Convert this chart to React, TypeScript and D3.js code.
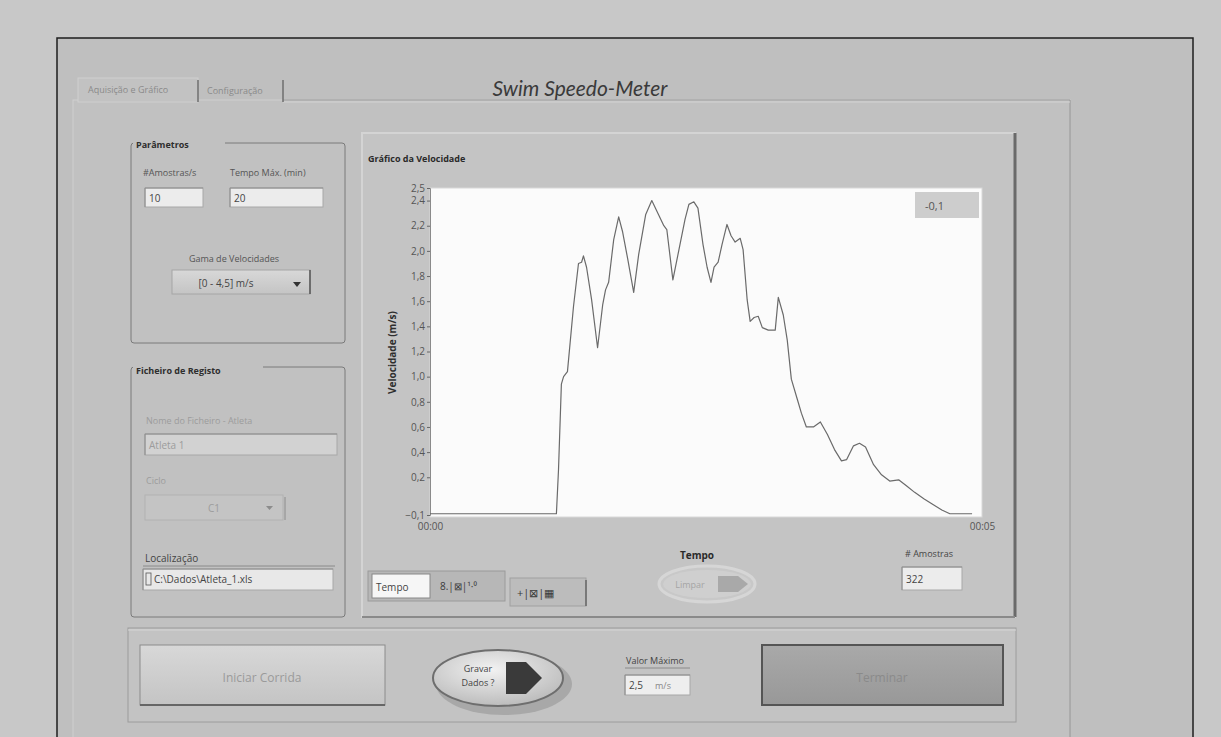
import React, { useEffect, useRef } from 'react';
import * as d3 from 'd3';

// velocity trace (time in s, speed in m/s)
const timeSec = [
  0, 1.145, 1.164, 1.19, 1.21, 1.245, 1.3, 1.345, 1.373, 1.39, 1.418, 1.464, 1.518, 1.564, 1.59, 1.618,
  1.664, 1.709, 1.745, 1.79, 1.845, 1.89, 1.954, 2.009, 2.064, 2.118, 2.145, 2.2, 2.255, 2.31, 2.345,
  2.39, 2.427, 2.473, 2.51, 2.545, 2.573, 2.61, 2.645, 2.69, 2.727, 2.764, 2.81, 2.836, 2.873, 2.9,
  2.936, 2.973, 3.01, 3.064, 3.127, 3.155, 3.2, 3.236, 3.273, 3.327, 3.364, 3.409, 3.473, 3.536, 3.6,
  3.664, 3.727, 3.773, 3.836, 3.89, 3.945, 4.018, 4.09, 4.164, 4.245, 4.318, 4.39, 4.473, 4.545, 4.636,
  4.709, 4.91,
];
const speed = [
  -0.09, -0.09, 0.26, 0.94, 1.0, 1.04, 1.56, 1.9, 1.91, 1.96, 1.87, 1.61, 1.23, 1.57, 1.69, 1.75,
  2.09, 2.27, 2.15, 1.94, 1.67, 1.97, 2.29, 2.4, 2.3, 2.2, 2.17, 1.77, 2.01, 2.25, 2.37,
  2.39, 2.34, 2.05, 1.87, 1.75, 1.87, 1.91, 2.05, 2.21, 2.12, 2.07, 2.1, 2.01, 1.61, 1.44,
  1.47, 1.48, 1.39, 1.37, 1.37, 1.63, 1.49, 1.29, 0.98, 0.82, 0.71, 0.6, 0.6, 0.64, 0.54,
  0.42, 0.33, 0.34, 0.45, 0.47, 0.44, 0.3, 0.22, 0.17, 0.18, 0.13, 0.08, 0.03, -0.01, -0.06,
  -0.09, -0.09,
];
const yTicks = [2.5, 2.4, 2.2, 2.0, 1.8, 1.6, 1.4, 1.2, 1.0, 0.8, 0.6, 0.4, 0.2, -0.1];
const xTicks = [0, 5];

const FONT = '"Open Sans", "Noto Sans", sans-serif';

const W = 1221;
const H = 737;
const plot = { left: 430, top: 188, right: 982, bottom: 517 };

export default function App() {
  const yAxisRef = useRef<SVGGElement>(null);
  const xAxisRef = useRef<SVGGElement>(null);

  const x = d3.scaleLinear().domain([0, 5]).range([plot.left, plot.right]);
  const y = d3.scaleLinear().domain([-0.1, 2.5]).range([plot.bottom - 2, plot.top]);

  const pts = timeSec.map((t, i) => [t, speed[i]] as [number, number]);
  const line = d3.line<[number, number]>().x(d => x(d[0])).y(d => y(d[1]));

  useEffect(() => {
    const fmt = d3.format('.1f');
    const ya = d3.axisLeft(y).tickValues(yTicks).tickSize(3).tickPadding(2)
      .tickFormat(d => fmt(d as number).replace('.', ','));
    const g = d3.select(yAxisRef.current!);
    g.call(ya);
    g.select('.domain').attr('stroke', '#8a8a8a');
    g.selectAll('.tick line').attr('stroke', '#666');
    g.selectAll('text').style('font-family', FONT).style('font-size', '10px').attr('fill', '#555');

    const xa = d3.axisBottom(x).tickValues(xTicks).tickSize(0).tickPadding(6)
      .tickFormat(d => '00:' + d3.format('02d')(d as number));
    const gx = d3.select(xAxisRef.current!);
    gx.call(xa);
    gx.select('.domain').remove();
    gx.selectAll('text').style('font-family', FONT).style('font-size', '10px').attr('fill', '#555');
  }, []);

  const label = (tx: number, ty: number, s: string, opts: any = {}) => (
    <text x={tx} y={ty} fontFamily={FONT} fontSize={opts.size || 10} fill={opts.fill || '#444'}
      fontWeight={opts.bold ? 700 : 400} textAnchor={opts.anchor || 'start'}>{s}</text>
  );

  const inputBox = (bx: number, by: number, bw: number, bh: number, s: string, fill = '#ececec', col = '#444') => (
    <g>
      <rect x={bx} y={by} width={bw} height={bh} fill={fill} stroke="#a8a8a8" />
      <line x1={bx} y1={by} x2={bx + bw} y2={by} stroke="#8c8c8c" />
      <line x1={bx} y1={by} x2={bx} y2={by + bh} stroke="#8c8c8c" />
      <text x={bx + 4} y={by + bh / 2 + 4} fontFamily={FONT} fontSize={10} fill={col}>{s}</text>
    </g>
  );

  return (
    <svg width={W} height={H} style={{ position: 'absolute', left: 0, top: 0 }}>
      <defs>
        <linearGradient id="btnLight" x1="0" y1="0" x2="0" y2="1">
          <stop offset="0" stopColor="#d8d8d8" />
          <stop offset="1" stopColor="#c4c4c4" />
        </linearGradient>
        <linearGradient id="btnDark" x1="0" y1="0" x2="0" y2="1">
          <stop offset="0" stopColor="#a9a9a9" />
          <stop offset="1" stopColor="#989898" />
        </linearGradient>
        <radialGradient id="oval" cx="0.45" cy="0.35" r="0.7">
          <stop offset="0" stopColor="#f2f2f2" />
          <stop offset="1" stopColor="#b8b8b8" />
        </radialGradient>
      </defs>

      {/* background and window frame */}
      <rect x={0} y={0} width={W} height={H} fill="#c8c8c8" />
      <rect x={57} y={38} width={1136} height={720} fill="#bfbfbf" stroke="#1e1e1e" strokeWidth={1.5} />

      {/* tabs */}
      <rect x={73} y={100} width={997} height={660} fill="#c1c1c1" stroke="#d0d0d0" />
      <line x1={1070} y1={100} x2={1070} y2={737} stroke="#8e8e8e" />
      <line x1={283} y1={100} x2={1070} y2={100} stroke="#9a9a9a" />
      <line x1={283} y1={102} x2={1070} y2={102} stroke="#d4d4d4" />
      <rect x={78} y={78} width={120} height={24} fill="#c2c2c2" stroke="#cfcfcf" />
      <line x1={198} y1={80} x2={198} y2={102} stroke="#6e6e6e" strokeWidth={1.5} />
      <line x1={283} y1={80} x2={283} y2={102} stroke="#6e6e6e" strokeWidth={1.5} />
      {label(88, 93, 'Aquisição e Gráfico', { fill: '#8a8a8a', size: 9 })}
      {label(207, 94, 'Configuração', { fill: '#8a8a8a', size: 9 })}
      <text x={580} y={96} textAnchor="middle" fontFamily="Lato, sans-serif" fontStyle="italic" fontSize={21} fill="#3a3a3a">Swim Speedo-Meter</text>

      {/* Parâmetros group */}
      <rect x={131} y={143} width={214} height={200} rx={3} fill="none" stroke="#7a7a7a" />
      <rect x={133} y={138} width={92} height={12} fill="#c1c1c1" />
      {label(136, 148, 'Parâmetros', { bold: true, fill: '#2e2e2e', size: 9 })}
      {label(143, 176, '#Amostras/s', { size: 9, fill: '#555' })}
      {inputBox(145, 188, 58, 19, '10')}
      {label(230, 176, 'Tempo Máx. (min)', { size: 9, fill: '#555' })}
      {inputBox(230, 188, 93, 19, '20')}
      {label(234, 262, 'Gama de Velocidades', { size: 9, fill: '#555', anchor: 'middle' })}
      <rect x={172} y={270} width={138} height={24} fill="url(#btnLight)" stroke="#a6a6a6" />
      <line x1={310} y1={270} x2={310} y2={294} stroke="#555" strokeWidth={1.5} />
      {label(226, 287, '[0 - 4,5] m/s', { size: 10, fill: '#444', anchor: 'middle' })}
      <path d="M293,282 l8,0 l-4,5 z" fill="#333" />

      {/* Ficheiro de Registo group */}
      <rect x={131} y={367} width={214} height={250} rx={3} fill="none" stroke="#7a7a7a" />
      <rect x={133} y={362} width={130} height={12} fill="#c1c1c1" />
      {label(136, 374, 'Ficheiro de Registo', { bold: true, fill: '#2e2e2e', size: 9 })}
      {label(146, 424, 'Nome do Ficheiro - Atleta', { size: 9, fill: '#9c9c9c' })}
      {inputBox(145, 434, 192, 21, 'Atleta 1', '#d2d2d2', '#9c9c9c')}
      {label(146, 484, 'Ciclo', { size: 9, fill: '#9c9c9c' })}
      <rect x={145} y={495} width={138} height={25} fill="#c4c4c4" stroke="#b2b2b2" />
      <line x1={285} y1={497} x2={285} y2={520} stroke="#8c8c8c" />
      {label(214, 512, 'C1', { size: 10, fill: '#9c9c9c', anchor: 'middle' })}
      <path d="M266,506 l7,0 l-3.5,4 z" fill="#8c8c8c" />
      {label(145, 562, 'Localização', { size: 10, fill: '#444' })}
      <line x1={143} y1={566} x2={335} y2={566} stroke="#8a8a8a" />
      {inputBox(143, 569, 190, 21, '', '#e8e8e8')}
      <rect x={146} y={573} width={5} height={12} fill="none" stroke="#555" strokeWidth={0.8} />
      {label(154, 583, 'C:\\Dados\\Atleta_1.xls', { size: 10, fill: '#444' })}

      {/* graph panel */}
      <rect x={362} y={133} width={653} height={484} fill="#c4c4c4" stroke="#d4d4d4" strokeWidth={2} />
      <line x1={1015} y1={133} x2={1015} y2={617} stroke="#6a6a6a" strokeWidth={3} />
      <line x1={362} y1={617} x2={1015} y2={617} stroke="#8a8a8a" strokeWidth={2} />
      {label(368, 162, 'Gráfico da Velocidade', { bold: true, fill: '#2a2a2a', size: 9 })}
      <rect x={plot.left} y={plot.top} width={plot.right - plot.left} height={plot.bottom - plot.top}
        fill="#fbfbfb" stroke="#d8d8d8" />
      <g ref={yAxisRef} transform={`translate(${plot.left},0)`} />
      <g ref={xAxisRef} transform={`translate(0,${plot.bottom})`} />
      <text transform={`translate(396,${(plot.top + plot.bottom) / 2}) rotate(-90)`} textAnchor="middle"
        fontFamily={FONT} fontSize={10} fontWeight={700} fill="#2e2e2e">Velocidade (m/s)</text>
      <path d={line(pts) || ''} fill="none" stroke="#6a6a6a" strokeWidth={1.2} strokeLinejoin="round" />
      <rect x={915} y={192} width={64} height={26} fill="#cdcdcd" />
      {label(925, 210, '-0,1', { size: 11, fill: '#555' })}

      {label(697, 559, 'Tempo', { bold: true, fill: '#2a2a2a', size: 10, anchor: 'middle' })}
      <ellipse cx={707} cy={584} rx={48} ry={18} fill="#c8c8c8" stroke="#d6d6d6" strokeWidth={3} />
      <ellipse cx={707} cy={584} rx={44} ry={14} fill="#cfcfcf" />
      {label(690, 588, 'Limpar', { size: 9, fill: '#a5a5a5', anchor: 'middle' })}
      <path d="M718,576 l20,0 l10,8 l-10,8 l-20,0 z" fill="#a9a9a9" />
      {label(905, 557, '# Amostras', { size: 9, fill: '#444' })}
      {inputBox(902, 567, 60, 23, '322')}

      {/* graph palette */}
      <rect x={368} y={571} width={137} height={30} fill="#b7b7b7" stroke="#9a9a9a" />
      <rect x={372} y={574} width={58} height={24} fill="#f6f6f6" stroke="#888" />
      {label(376, 591, 'Tempo', { size: 10, fill: '#444' })}
      {label(440, 590, '8.|⊠|¹·⁰', { size: 10, fill: '#3a3a3a' })}
      <rect x={510} y={578} width={76} height={28} fill="#bcbcbc" stroke="#a0a0a0" />
      <line x1={586} y1={580} x2={586} y2={606} stroke="#666" strokeWidth={1.5} />
      {label(517, 597, '+|⊠|▦', { size: 11, fill: '#3a3a3a' })}

      {/* bottom control strip */}
      <rect x={128} y={628} width={888} height={94} fill="#c3c3c3" stroke="#9c9c9c" />
      <line x1={128} y1={630} x2={1016} y2={630} stroke="#d6d6d6" />
      <rect x={140} y={645} width={245} height={60} fill="url(#btnLight)" stroke="#8c8c8c" />
      <line x1={140} y1={705} x2={385} y2={705} stroke="#666" strokeWidth={2} />
      {label(262, 682, 'Iniciar Corrida', { size: 12, fill: '#9a9a9a', anchor: 'middle' })}

      <ellipse cx={504} cy={684} rx={68} ry={31} fill="#8e8e8e" opacity={0.5} />
      <ellipse cx={498} cy={678} rx={65} ry={28} fill="url(#oval)" stroke="#6e6e6e" strokeWidth={2} />
      {label(478, 672, 'Gravar', { size: 9, fill: '#444', anchor: 'middle' })}
      {label(478, 686, 'Dados ?', { size: 9, fill: '#444', anchor: 'middle' })}
      <path d="M506,662 l20,0 l16,16 l-16,16 l-20,0 z" fill="#3a3a3a" />

      {label(655, 664, 'Valor Máximo', { size: 9, fill: '#444', anchor: 'middle' })}
      <line x1={625} y1={668} x2={690} y2={668} stroke="#8a8a8a" />
      {inputBox(625, 675, 65, 20, '2,5', '#eeeeee')}
      {label(655, 689, 'm/s', { size: 9, fill: '#888' })}

      <rect x={762} y={645} width={241} height={60} fill="url(#btnDark)" stroke="#555" strokeWidth={2} />
      {label(882, 682, 'Terminar', { size: 12, fill: '#8a8a8a', anchor: 'middle' })}
    </svg>
  );
}
